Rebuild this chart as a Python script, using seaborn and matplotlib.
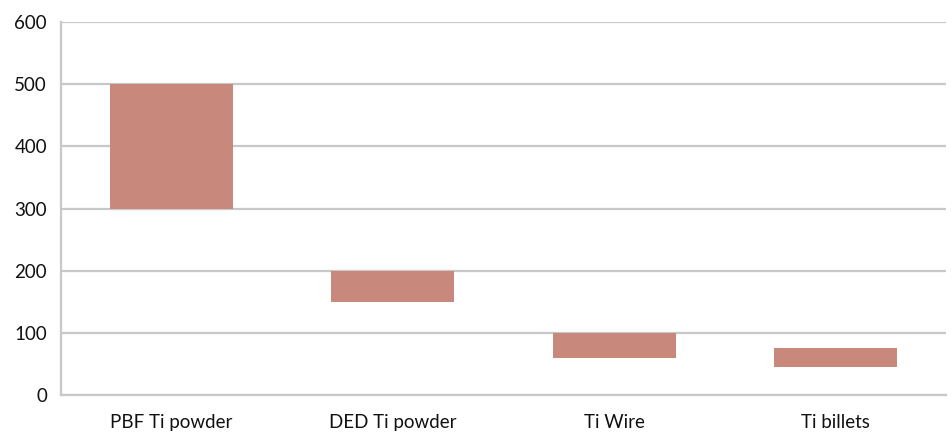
import matplotlib
matplotlib.use("Agg")
import matplotlib.pyplot as plt
import seaborn as sns
import pandas as pd
import numpy as np

categories = ["PBF Ti powder", "DED Ti powder", "Ti Wire", "Ti billets"]
low_values = [300, 150, 60, 45]
high_values = [500, 200, 100, 75]
y_ticks = [0, 100, 200, 300, 400, 500, 600]

df = pd.DataFrame({
    "category": categories,
    "low": low_values,
    "high": high_values,
})
df["span"] = df["high"] - df["low"]

sns.set_style("white")
plt.rcParams["font.family"] = ["Lato", "DejaVu Sans"]

grid_col = "#c6c8ca"
bar_col = "#c8897c"
text_col = "#111111"

fig = plt.figure(figsize=(9.52, 4.32), dpi=100)
ax = fig.add_axes([0.064, 0.0856, 0.9297, 0.8634])

sns.barplot(data=df, x="category", y="span", bottom=df["low"].values,
            color=bar_col, saturation=1, width=0.555, linewidth=0,
            ax=ax, zorder=3)

ax.set_ylim(0, 600)
ax.set_xlim(-0.5, len(categories) - 0.5)
ax.set_yticks(y_ticks)
ax.set_yticklabels([str(v) for v in y_ticks])
for v in y_ticks:
    ax.axhline(v, color=grid_col, lw=1.6, zorder=1)

ax.set_xticks(np.arange(-0.5, len(categories), 1.0), minor=True)
ax.tick_params(axis="x", which="major", length=0, pad=14, labelsize=13.5,
               labelcolor=text_col)
ax.tick_params(axis="x", which="minor", length=6, width=1.3, color=grid_col)
ax.tick_params(axis="y", length=6, width=1.6, color=grid_col, pad=4,
               labelsize=13.5, labelcolor=text_col)

for side in ["top", "right"]:
    ax.spines[side].set_visible(False)
for side in ["left", "bottom"]:
    ax.spines[side].set_color(grid_col)
    ax.spines[side].set_linewidth(1.6)

ax.set_xlabel("")
ax.set_ylabel("")

fig.savefig("out.png", dpi=100)
